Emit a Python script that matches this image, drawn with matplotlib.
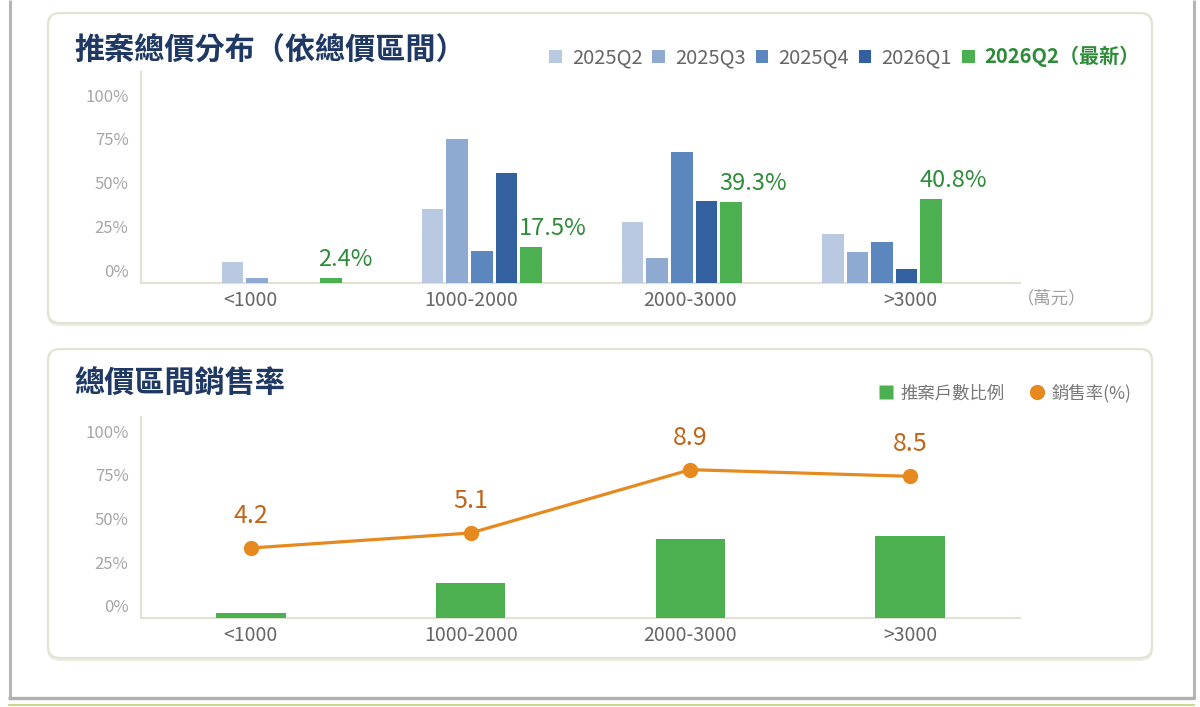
import matplotlib
matplotlib.use('Agg')
import matplotlib.pyplot as plt
from matplotlib.patches import FancyBboxPatch, Patch
from matplotlib.lines import Line2D
import numpy as np

plt.rcParams['font.family'] = ['Noto Sans CJK TC', 'DejaVu Sans']

# ---------------- data ----------------
categories = ['<1000', '1000-2000', '2000-3000', '>3000']
quarters = ['2025Q2', '2025Q3', '2025Q4', '2026Q1', '2026Q2（最新）']
share_2025q2 = [10.2, 36.1, 29.8, 23.9]
share_2025q3 = [2.5, 70.2, 12.2, 15.1]
share_2025q4 = [0.0, 15.8, 64.1, 20.1]
share_2026q1 = [0.0, 53.5, 39.8, 6.7]
share_2026q2 = [2.4, 17.5, 39.3, 40.8]
sell_rate = [4.2, 5.1, 8.9, 8.5]
bottom_series = ['推案戶數比例', '銷售率(%)']
ytick_labels = ['0%', '25%', '50%', '75%', '100%']
title_top = '推案總價分布（依總價區間）'
title_bottom = '總價區間銷售率'
unit_label = '（萬元）'

# ---------------- style ----------------
q_colors = ['#b9c9e2', '#8eaad1', '#5b86be', '#33609e', '#4caf50']
green = '#4caf50'
green_text = '#2e8b3a'
orange = '#e6891e'
orange_text = '#c0651a'
navy = '#1f3864'
axis_col = '#e2e2d2'
tick_col = '#a6a6a6'
cat_col = '#666666'

W, H = 1200, 707
fig = plt.figure(figsize=(W / 100, H / 100), dpi=100)
bg = fig.add_axes([0, 0, 1, 1])
bg.set_xlim(0, W)
bg.set_ylim(H, 0)
bg.axis('off')

# outer frame
bg.plot([9.5, 9.5], [0, 698], color='#b5b5b5', lw=2.2, solid_capstyle='butt')
bg.plot([1193.5, 1193.5], [0, 698], color='#b5b5b5', lw=2.2, solid_capstyle='butt')
bg.plot([8, 1195], [698, 698], color='#b0b0b0', lw=2.4, solid_capstyle='butt')
bg.plot([8, 1195], [704.5, 704.5], color='#c5dc8a', lw=1.4, solid_capstyle='butt')

# panels
for top, bottom in [(13, 323), (349, 658)]:
    sh = FancyBboxPatch((48, top + 2), 1104, bottom - top, boxstyle='round,pad=0,rounding_size=12',
                        fc='none', ec='#ececE2', lw=1.6, zorder=1)
    bg.add_patch(sh)
    p = FancyBboxPatch((48, top), 1104, bottom - top, boxstyle='round,pad=0,rounding_size=12',
                       fc='white', ec='#e3e3d3', lw=1.6, zorder=2)
    bg.add_patch(p)

bg.text(74, 50, title_top, fontsize=21.7, weight='bold', color=navy, va='center', ha='left', zorder=3)
bg.text(74, 384, title_bottom, fontsize=21.7, weight='bold', color=navy, va='center', ha='left', zorder=3)
bg.text(1052, 298, unit_label, fontsize=12.5, color='#a0a0a0', va='center', ha='center', zorder=3)


def px_axes(l, t, r, b):
    return fig.add_axes([l / W, 1 - b / H, (r - l) / W, (b - t) / H])


def style_axes(ax):
    for s in ['top', 'right']:
        ax.spines[s].set_visible(False)
    for s in ['left', 'bottom']:
        ax.spines[s].set_color(axis_col)
        ax.spines[s].set_linewidth(1.5)
    ax.patch.set_alpha(0)


# ---------------- top chart ----------------
ax1 = px_axes(141, 72, 1020, 283)
style_axes(ax1)
ax1.set_ylim(0, 211 / 2.05)
ax1.set_xlim(-0.702, 3.689)
x = np.arange(len(categories))
series = [share_2025q2, share_2025q3, share_2025q4, share_2026q1, share_2026q2]
step, bw = 0.1229, 0.108
for k, (vals, c) in enumerate(zip(series, q_colors)):
    off = (k - 2) * step
    ax1.bar(x + off, vals, width=bw, color=c, linewidth=0, zorder=3)
    if k == 4:
        for xi, v in zip(x, vals):
            ax1.annotate(f'{v}%', xy=(xi + off - bw / 2, v), xytext=(-1, 13.5),
                         textcoords='offset points', ha='left', va='center',
                         fontsize=17, color=green_text, zorder=4)
ax1.set_xticks([])
ax1.set_yticks(np.linspace(6.3, 91.7, 5), ytick_labels)
ax1.tick_params(axis='y', length=0, pad=9, labelsize=12, labelcolor=tick_col)

axl = px_axes(141, 72, 1020, 283)
axl.set_xlim(-0.5, 3.5)
axl.set_ylim(0, 1)
axl.patch.set_alpha(0)
for s in axl.spines.values():
    s.set_visible(False)
axl.set_yticks([])
axl.set_xticks(x, categories)
axl.tick_params(axis='x', length=0, pad=5, labelsize=14, labelcolor=cat_col)

leg1 = bg.legend([Patch(fc=c, ec='none') for c in q_colors], quarters,
                 loc='center right', bbox_to_anchor=(1140 / W, 1 - 57 / H),
                 bbox_transform=fig.transFigure, ncol=5, frameon=False, fontsize=14.5,
                 handlelength=0.62, handleheight=0.62, handletextpad=0.5,
                 columnspacing=0.5, borderpad=0, borderaxespad=0)
for i, t in enumerate(leg1.get_texts()):
    t.set_color(cat_col if i < 4 else green_text)
    if i == 4:
        t.set_fontweight('bold')
bg.add_artist(leg1)

# ---------------- bottom chart ----------------
ax2 = px_axes(141, 417, 1020, 618)
style_axes(ax2)
ax2.set_ylim(0, 100.5)
ax2.set_xlim(-0.5, 3.5)
ax2.bar(x, share_2026q2, width=0.317, color=green, linewidth=0, zorder=3)
ax2.set_xticks(x, categories)
ax2.tick_params(axis='x', length=0, pad=5, labelsize=14, labelcolor=cat_col)
ax2.set_yticks(np.linspace(6.0, 93.5, 5), ytick_labels)
ax2.tick_params(axis='y', length=0, pad=9, labelsize=12, labelcolor=tick_col)

ax2b = ax2.twinx()
ax2b.set_ylim(0, 12 * 100.5 / 100)
for s in ax2b.spines.values():
    s.set_visible(False)
ax2b.set_yticks([])
ax2b.plot(x, sell_rate, color=orange, lw=2.3, marker='o', ms=10, zorder=5)
for xi, v in zip(x, sell_rate):
    ax2b.annotate(f'{v}', xy=(xi, v), xytext=(0, 23), textcoords='offset points',
                  ha='center', va='center', fontsize=18, color=orange_text)

h2 = [Line2D([], [], marker='s', ls='none', mfc=green, mec='none', ms=10),
      Line2D([], [], marker='o', ls='none', mfc=orange, mec='none', ms=11)]
leg2 = bg.legend(h2, bottom_series, loc='center right', bbox_to_anchor=(1131 / W, 1 - 393 / H),
                 bbox_transform=fig.transFigure, ncol=2, frameon=False, fontsize=12.5,
                 handlelength=0.8, handletextpad=0.4, columnspacing=1.5,
                 borderpad=0, borderaxespad=0)
for t in leg2.get_texts():
    t.set_color('#777777')

fig.savefig('out.png', dpi=100)
